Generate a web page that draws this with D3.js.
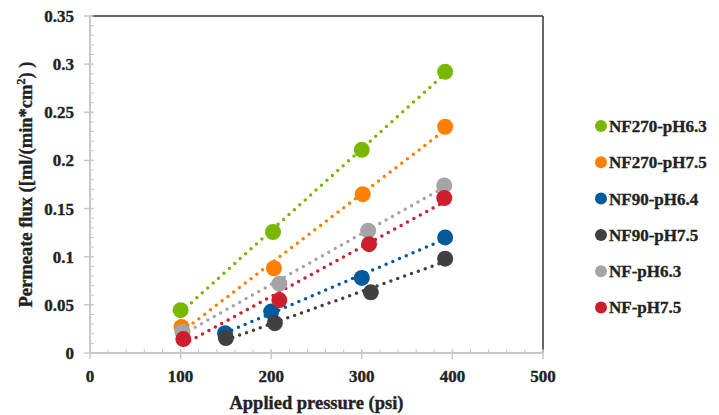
<!DOCTYPE html>
<html lang="en">
<head>
<meta charset="UTF-8">
<title>Permeate flux vs applied pressure</title>
<script src="https://cdn.jsdelivr.net/npm/d3@7"></script>
<style>
  body { margin: 0; background: #fff; }
  svg { display: block; }
  svg text { font-family: "Liberation Serif", "Times New Roman", serif; font-weight: 700; }
</style>
</head>
<body>
<svg id="chart" width="719" height="415"></svg>
<script>
// series
const seriesNames = ["NF270-pH6.3", "NF270-pH7.5", "NF90-pH6.4", "NF90-pH7.5", "NF-pH6.3", "NF-pH7.5"];
const seriesColors = ["#7ab800", "#ff7f00", "#005a9c", "#404040", "#a5a5a5", "#cc1f2e"];

const nf270pH63X = [100, 202, 300, 392];
const nf270pH63Y = [0.0445, 0.1257, 0.211, 0.292];
const nf270pH75X = [101, 203, 301, 392];
const nf270pH75Y = [0.027, 0.088, 0.165, 0.235];
const nf90pH64X = [149, 200, 300, 392];
const nf90pH64Y = [0.0205, 0.043, 0.078, 0.12];
const nf90pH75X = [150, 204, 310, 392];
const nf90pH75Y = [0.0155, 0.031, 0.063, 0.098];
const nfpH63X = [102, 209, 307, 391];
const nfpH63Y = [0.022, 0.072, 0.127, 0.174];
const nfpH75X = [103, 209, 308, 391];
const nfpH75Y = [0.0145, 0.055, 0.113, 0.161];

const xTicks = [0, 100, 200, 300, 400, 500];
const yTicks = [0, 0.05, 0.1, 0.15, 0.2, 0.25, 0.3, 0.35];

const seriesX = [nf270pH63X, nf270pH75X, nf90pH64X, nf90pH75X, nfpH63X, nfpH75X];
const seriesY = [nf270pH63Y, nf270pH75Y, nf90pH64Y, nf90pH75Y, nfpH63Y, nfpH75Y];

const svg = d3.select("#chart");
const plotL = 90, plotR = 543, plotT = 16, plotB = 353;
const ink = "#222";

const x = d3.scaleLinear().domain([0, 500]).range([plotL, plotR]);
const y = d3.scaleLinear().domain([0, 0.35]).range([plotB, plotT]);

const axisGray = "#c8c8c8";

// text helper: bold serif, slightly stroked to match the heavy look
function label(sel, size) {
  return sel.attr("font-size", size).attr("fill", ink)
    .attr("stroke", ink).attr("stroke-width", 0.35);
}

// frame: top and right are dark
svg.append("line").attr("x1", plotL).attr("x2", plotR).attr("y1", plotT).attr("y2", plotT)
  .attr("stroke", "#333").attr("stroke-width", 1.5);
svg.append("line").attr("x1", plotR).attr("x2", plotR).attr("y1", plotT).attr("y2", plotB)
  .attr("stroke", "#333").attr("stroke-width", 1.5);

// minor ticks
const ax = svg.append("g");
d3.range(0, 501, 20).forEach(v => {
  ax.append("line").attr("x1", x(v)).attr("x2", x(v)).attr("y1", plotB - 4).attr("y2", plotB)
    .attr("stroke", axisGray).attr("stroke-width", 1);
});
d3.range(0, 36).forEach(i => {
  const v = i * 0.01;
  ax.append("line").attr("x1", plotL).attr("x2", plotL + 4).attr("y1", y(v)).attr("y2", y(v))
    .attr("stroke", axisGray).attr("stroke-width", 1);
});

// axis lines
ax.append("line").attr("x1", plotL).attr("x2", plotR).attr("y1", plotB).attr("y2", plotB)
  .attr("stroke", axisGray).attr("stroke-width", 2);
ax.append("line").attr("x1", plotL).attr("x2", plotL).attr("y1", plotT).attr("y2", plotB)
  .attr("stroke", axisGray).attr("stroke-width", 2);

// major ticks + labels
xTicks.forEach(v => {
  ax.append("line").attr("x1", x(v)).attr("x2", x(v)).attr("y1", plotB - 3).attr("y2", plotB + 6)
    .attr("stroke", axisGray).attr("stroke-width", 1.5);
  label(ax.append("text"), 17).attr("x", x(v)).attr("y", 382).attr("text-anchor", "middle").text(v);
});
yTicks.forEach(v => {
  ax.append("line").attr("x1", plotL - 6).attr("x2", plotL + 3).attr("y1", y(v)).attr("y2", y(v))
    .attr("stroke", axisGray).attr("stroke-width", 1.5);
  label(ax.append("text"), 17).attr("x", 74).attr("y", y(v)).attr("dy", "0.35em")
    .attr("text-anchor", "end").text(d3.format("")(v));
});

// axis titles
label(svg.append("text"), 18.5).attr("x", (plotL + plotR) / 2).attr("y", 409)
  .attr("text-anchor", "middle").text("Applied pressure (psi)");
const yt = label(svg.append("text"), 18.5)
  .attr("transform", `translate(32,${(plotT + plotB) / 2}) rotate(-90)`)
  .attr("text-anchor", "middle");
yt.append("tspan").text("Permeate flux ([ml/(min*cm");
yt.append("tspan").attr("dy", -7).attr("font-size", 12).text("2");
yt.append("tspan").attr("dy", 7).text(") )");

// trendlines (least squares) then markers
const plot = svg.append("g");
seriesNames.forEach((name, i) => {
  const xs = seriesX[i], ys = seriesY[i];
  const mx = d3.mean(xs), my = d3.mean(ys);
  const slope = d3.sum(xs, (xv, k) => (xv - mx) * (ys[k] - my)) / d3.sum(xs, xv => (xv - mx) ** 2);
  const b = my - slope * mx;
  const x0 = d3.min(xs), x1 = d3.max(xs);
  plot.append("line")
    .attr("x1", x(x0)).attr("y1", y(slope * x0 + b))
    .attr("x2", x(x1)).attr("y2", y(slope * x1 + b))
    .attr("stroke", seriesColors[i]).attr("stroke-width", 3.5)
    .attr("stroke-linecap", "round").attr("stroke-dasharray", "0 7.3");
});
seriesNames.forEach((name, i) => {
  plot.append("g").selectAll("circle")
    .data(seriesX[i].map((xv, k) => [xv, seriesY[i][k]]))
    .join("circle")
    .attr("cx", d => x(d[0])).attr("cy", d => y(d[1])).attr("r", 8)
    .attr("fill", seriesColors[i]);
});

// legend
const legend = svg.append("g");
seriesNames.forEach((name, i) => {
  const ly = 126 + i * 36.3;
  legend.append("circle").attr("cx", 601).attr("cy", ly).attr("r", 6)
    .attr("fill", seriesColors[i]);
  label(legend.append("text"), 17).attr("x", 609).attr("y", ly).attr("dy", "0.35em").text(name);
});
</script>
</body>
</html>
